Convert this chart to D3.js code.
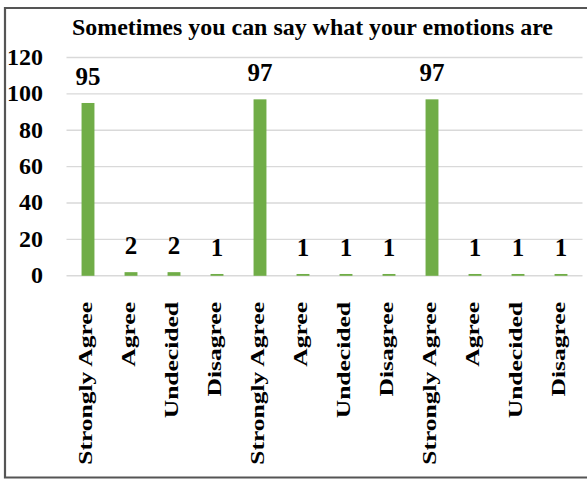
<!DOCTYPE html>
<html>
<head>
<meta charset="utf-8">
<script src="https://cdn.jsdelivr.net/npm/d3@7"></script>
<style>
  html, body { margin: 0; padding: 0; background: #fff; }
  svg { display: block; }
  text { font-family: "Liberation Serif", "Times New Roman", serif; fill: #000; }
</style>
</head>
<body>
<svg id="chart" width="587" height="479"></svg>
<script>
// Survey responses, three statement groups of four answers each
const categories = [
  "Strongly Agree", "Agree", "Undecided", "Disagree",
  "Strongly Agree", "Agree", "Undecided", "Disagree",
  "Strongly Agree", "Agree", "Undecided", "Disagree"
];
const values = [95, 2, 2, 1, 97, 1, 1, 1, 97, 1, 1, 1];
const yTicks = [0, 20, 40, 60, 80, 100, 120];
const title = "Sometimes you can say what your emotions are";

const svg = d3.select("#chart");
const idx = d3.range(categories.length);

// Outer frame (open on the right edge)
svg.append("path")
  .attr("d", "M590,8 H5 V477.5 H590")
  .attr("fill", "none")
  .attr("stroke", "#555")
  .attr("stroke-width", 2.2);

const plot = { left: 66.5, right: 582.5, top: 57.5, bottom: 275.8 };

const x = d3.scaleBand().domain(idx).range([plot.left, plot.right]);
const y = d3.scaleLinear().domain([0, 120]).range([plot.bottom, plot.top]);

// Title
svg.append("text")
  .attr("x", 312.5)
  .attr("y", 35)
  .attr("text-anchor", "middle")
  .attr("font-size", 23.5)
  .attr("font-weight", "bold")
  .attr("textLength", 481)
  .attr("lengthAdjust", "spacingAndGlyphs")
  .text(title);

// Horizontal gridlines
svg.append("g")
  .selectAll("line")
  .data(yTicks)
  .join("line")
  .attr("x1", plot.left)
  .attr("x2", plot.right)
  .attr("y1", d => y(d))
  .attr("y2", d => y(d))
  .attr("stroke", "#d9d9d9")
  .attr("stroke-width", 1.4);

// Y axis labels
const yAxis = d3.axisLeft(y).tickValues(yTicks).tickSize(0).tickPadding(0);
const gy = svg.append("g").attr("transform", "translate(43,0)").call(yAxis);
gy.select(".domain").remove();
gy.selectAll("text")
  .attr("font-size", 24)
  .attr("font-weight", "bold")
  .attr("font-family", "\"Liberation Serif\", \"Times New Roman\", serif")
  .attr("fill", "#000")
  .attr("dy", "0.28em");

// Bars
const barFrac = 0.3;
svg.append("g")
  .selectAll("rect")
  .data(idx)
  .join("rect")
  .attr("x", i => x(i) + x.bandwidth() * (1 - barFrac) / 2)
  .attr("width", x.bandwidth() * barFrac)
  .attr("y", i => y(values[i]))
  .attr("height", i => y(0) - y(values[i]))
  .attr("fill", "#70ad47");

// Value labels
svg.append("g")
  .selectAll("text")
  .data(idx)
  .join("text")
  .attr("x", i => x(i) + x.bandwidth() / 2)
  .attr("y", i => y(values[i]) - 18)
  .attr("text-anchor", "middle")
  .attr("font-size", 25)
  .attr("font-weight", "bold")
  .text(i => values[i]);

// Category labels, rotated and stretched along the text
svg.append("g")
  .selectAll("text")
  .data(idx)
  .join("text")
  .attr("transform", i =>
    `translate(${x(i) + x.bandwidth() / 2 + 3.5},302) rotate(-90) scale(1.38,1)`)
  .attr("text-anchor", "end")
  .attr("font-size", 18.5)
  .attr("font-weight", "bold")
  .text(i => categories[i]);
</script>
</body>
</html>
